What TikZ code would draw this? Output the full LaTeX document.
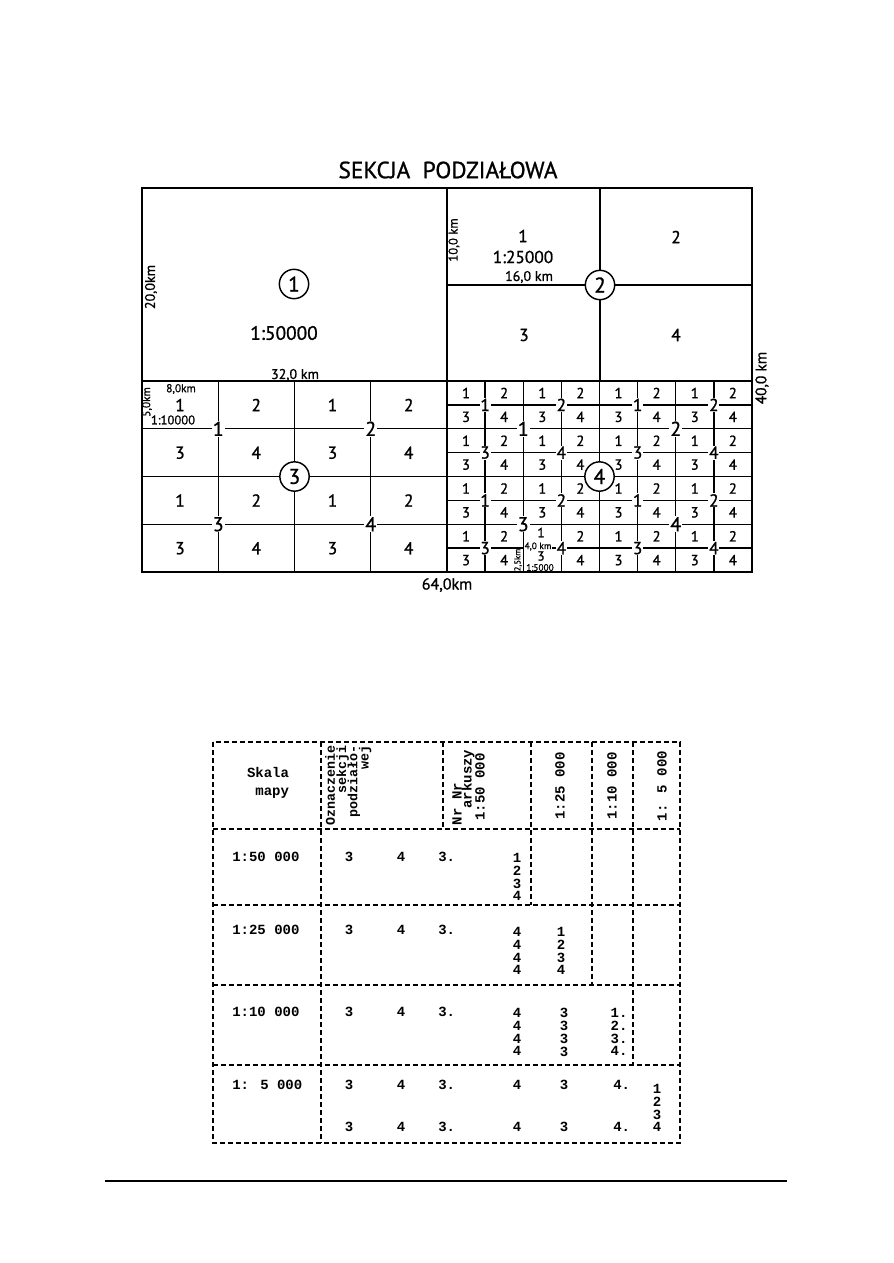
\documentclass[tikz,border=0pt]{standalone}
\usepackage{fontspec}
\setmainfont{PT Sans}[FakeBold=1.0]
\newfontfamily\typefont{Liberation Mono}
\usetikzlibrary{positioning}

\newcommand{\mapsize}[1]{\fontsize{#1}{#1}\selectfont}

\begin{document}
\begin{tikzpicture}[x=0.75pt, y=-0.75pt,
  frame/.style={line width=1.3pt},
  grid/.style={line width=1.1pt},
  tabline/.style={line width=1.1pt, dash pattern=on 4pt off 2pt},
  sheet/.style={draw, circle, fill=white, line width=1.1pt, minimum size=22pt, inner sep=0pt, font=\mapsize{16}},
  celltxt/.style={font=\mapsize{13}},
  subtxt/.style={font=\mapsize{11}},
  cutlbl/.style={fill=white, inner sep=0.8pt, font=\mapsize{15}},
  cutsmall/.style={fill=white, inner sep=0.6pt, font=\mapsize{13}},
  dim/.style={font=\mapsize{10.5}},
  tiny/.style={font=\mapsize{7}, inner sep=0.3pt},
  tab/.style={font=\typefont\bfseries\mapsize{10.5}, inner sep=0pt},
  tabhead/.style={tab, rotate=90},
  tabcol/.style={tab, align=center, anchor=north, font=\typefont\bfseries\fontsize{10.5}{9.6}\selectfont}
]
\useasboundingbox (0,0) rectangle (893,1263);

% ---------------- map sheet ----------------
\node[font=\mapsize{17.5}] (title) at (448,170) {SEKCJA\ \ PODZIAŁOWA};

\draw[frame] (142,188) rectangle (752,572);
\draw[grid] (447,188) -- (447,572);
\draw[grid] (142,381) -- (752,381);
\draw[grid] (600,188) -- (600,381);
\draw[grid] (447,285) -- (752,285);

% quadrant 3 grid (1:10000)
\foreach \i in {1,2,3} {
  \draw[grid] (142+76.25*\i,381) -- (142+76.25*\i,572);
  \draw[grid] (142,381+47.75*\i) -- (447,381+47.75*\i);
}
% quadrant 4 grid (1:5000)
\foreach \i in {1,...,7} {
  \draw[grid] (447+38.125*\i,381) -- (447+38.125*\i,572);
  \draw[grid] (447,381+23.875*\i) -- (752,381+23.875*\i);
}

% quadrant 1
\node[sheet] (s1) at (294,284) {1};
\node[font=\mapsize{14.5}] (scale50) at (284,333) {1:50000};
\node[dim, rotate=90] (h20) at (151,287) {20,0km};
\node[dim] (w32) at (295,375) {32,0 km};

% quadrant 2
\node[celltxt] (q2a) at (523,236) {1};
\node[font=\mapsize{13}] (scale25) at (523,257) {1:25000};
\node[dim] (w16) at (529,277) {16,0 km};
\node[font=\mapsize{9.5}, rotate=90] (h10) at (454,240) {10,0 km};
\node[celltxt] (q2b) at (676,237) {2};
\node[celltxt] (q2c) at (524,335) {3};
\node[celltxt] (q2d) at (676,335) {4};
\node[sheet] (s2) at (600,285) {2};

% quadrant 3
\foreach \c in {0,...,3} \foreach \r in {0,...,3} {
  \pgfmathtruncatemacro\dig{1+mod(\c,2)+2*mod(\r,2)}
  \node[celltxt] (c3-\c-\r) at (180+76.25*\c,405+47.75*\r) {\dig};
}
\node[font=\mapsize{8.5}] (w8) at (181,389) {8,0km};
\node[font=\mapsize{9.5}] (scale10) at (173,420) {1:10000};
\node[font=\mapsize{8.5}, rotate=90] (h5) at (147,402) {5,0km};
\node[cutlbl] (g3a) at (218.25,428.75) {1};
\node[cutlbl] (g3b) at (370.75,428.75) {2};
\node[cutlbl] (g3c) at (218.25,524.25) {3};
\node[cutlbl] (g3d) at (370.75,524.25) {4};
\node[sheet] (s3) at (294.5,476.5) {3};

% quadrant 4
\foreach \c in {0,...,7} \foreach \r in {0,...,7} {
  \pgfmathtruncatemacro\dig{1+mod(\c,2)+2*mod(\r,2)}
  \pgfmathtruncatemacro\spec{(\c==2)*(\r>5)}
  \ifnum\spec=0
    \node[subtxt] (c4-\c-\r) at (466+38.125*\c,393+23.875*\r) {\dig};
  \fi
}
\foreach \i in {0,...,3} \foreach \j in {0,...,3} {
  \pgfmathtruncatemacro\dig{1+mod(\i,2)+2*mod(\j,2)}
  \node[cutsmall] (k4-\i-\j) at (485.125+76.25*\i,404.875+47.75*\j) {\dig};
}
\node[cutlbl] (g4a) at (523.25,428.75) {1};
\node[cutlbl] (g4b) at (675.75,428.75) {2};
\node[cutlbl] (g4c) at (523.25,524.25) {3};
\node[cutlbl] (g4d) at (675.75,524.25) {4};
\node[font=\mapsize{10}] (c4-2-6) at (541,532.5) {1};
\node[tiny, fill=white] (w4) at (538,546.5) {4,0 km};
\node[font=\mapsize{10}] (c4-2-7) at (541,556) {3};
\node[tiny] (scale5) at (540,567.5) {1:5000};
\node[tiny, font=\mapsize{6.5}, rotate=90] (h25) at (518,560) {2,5km};
\node[sheet] (s4) at (599.5,476.5) {4};

% outer dimensions
\node[font=\mapsize{11.5}, rotate=90] (h40) at (762,378) {40,0 km};
\node[font=\mapsize{12}] (w64) at (447,585) {64,0km};

% ---------------- table ----------------
\draw[tabline] (213,742) rectangle (680,1143);
\draw[tabline] (213,829) -- (680,829);
\draw[tabline] (213,905) -- (680,905);
\draw[tabline] (213,985) -- (680,985);
\draw[tabline] (213,1065) -- (680,1065);
\draw[tabline] (321,742) -- (321,1143);
\draw[tabline] (443,742) -- (443,829);
\draw[tabline] (531,742) -- (531,905);
\draw[tabline] (592,742) -- (592,985);
\draw[tabline] (633,742) -- (633,1065);

% header
\node[tab, align=right, font=\typefont\bfseries\fontsize{10.5}{14}\selectfont] (skala) at (268,783) {Skala\\mapy};
\node[tabhead, align=right, anchor=north east,
  font={\typefont\bfseries\fontsize{10}{8.4}\selectfont\lineskiplimit=-20pt}] (oznacz) at (325,745) {Oznaczenie\\sekcji\\podziało-\\wej};
\node[tabhead] (nrnr) at (457,804) {Nr Nr};
\node[tabhead] (arkusz) at (468,779) {arkuszy};
\node[tabhead] (h50) at (480,787) {1:50 000};
\node[tabhead] (h25k) at (560,786) {1:25 000};
\node[tabhead] (h10k) at (612,786) {1:10 000};
\node[tabhead] (h5k) at (662,786) {1: 5 000};

% row 1:50 000
\node[tab, anchor=west] (r1) at (232,857) {1:50 000};
\node[tab] (r1a) at (349,857) {3};
\node[tab] (r1b) at (401,857) {4};
\node[tab, anchor=west] (r1c) at (438,857) {3.};
\node[tabcol] (r1d) at (517,853) {1\\2\\3\\4};

% row 1:25 000
\node[tab, anchor=west] (r2) at (232,930) {1:25 000};
\node[tab] (r2a) at (349,930) {3};
\node[tab] (r2b) at (401,930) {4};
\node[tab, anchor=west] (r2c) at (438,930) {3.};
\node[tabcol] (r2d) at (517,927) {4\\4\\4\\4};
\node[tabcol] (r2e) at (561,927) {1\\2\\3\\4};

% row 1:10 000
\node[tab, anchor=west] (r3) at (232,1012) {1:10 000};
\node[tab] (r3a) at (349,1012) {3};
\node[tab] (r3b) at (401,1012) {4};
\node[tab, anchor=west] (r3c) at (438,1012) {3.};
\node[tabcol] (r3d) at (517,1008) {4\\4\\4\\4};
\node[tabcol] (r3e) at (564,1008) {3\\3\\3\\3};
\node[tabcol, align=left] (r3f) at (619,1008) {1.\\2.\\3.\\4.};

% row 1: 5 000
\node[tab, anchor=west] (r4) at (232,1085) {1: 5 000};
\node[tab] (r4a) at (349,1085) {3};
\node[tab] (r4b) at (401,1085) {4};
\node[tab, anchor=west] (r4c) at (438,1085) {3.};
\node[tab] (r4d) at (517,1085) {4};
\node[tab] (r4e) at (564,1085) {3};
\node[tab, anchor=west] (r4f) at (613,1085) {4.};
\node[tab] (r4g) at (349,1127) {3};
\node[tab] (r4h) at (401,1127) {4};
\node[tab, anchor=west] (r4i) at (438,1127) {3.};
\node[tab] (r4j) at (517,1127) {4};
\node[tab] (r4k) at (564,1127) {3};
\node[tab, anchor=west] (r4l) at (613,1127) {4.};
\node[tabcol] (r4m) at (657,1084) {1\\2\\3\\4};

% page rule
\draw[line width=0.9pt] (105,1181) -- (787,1181);
\end{tikzpicture}
\end{document}
